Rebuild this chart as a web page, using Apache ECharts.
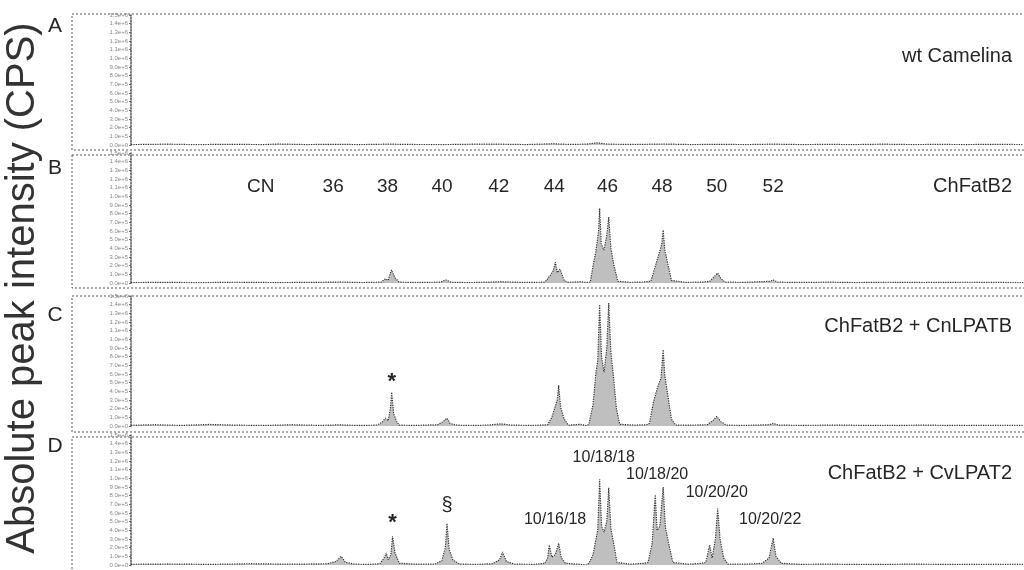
<!DOCTYPE html>
<html><head><meta charset="utf-8">
<script src="https://cdn.jsdelivr.net/npm/echarts@6/dist/echarts.min.js"></script>
<style>html,body{margin:0;padding:0;background:#fff}#c{width:1024px;height:570px}</style>
</head><body><div id="c"></div>
<script>
// Panel identifiers and titles
const panelLetters = ['A', 'B', 'C', 'D'];
const panelNames = ['wt Camelina', 'ChFatB2', 'ChFatB2 + CnLPATB', 'ChFatB2 + CvLPAT2'];

// Traces: [retention position (CN-equivalent), intensity (x10^4 CPS)]
const traceA = [[28.65,0.5],[30,1],[31,0.4],[32,0.8],[33.5,0.5],[34,1.2],[35,0.5],[36,0.8],[37,0.5],[38,1],[39,0.6],[40,0.5],[41,0.9],[42,1],[43,0.5],[44,1.5],[44.6,0.6],[45.2,1],[45.6,2.5],[46,1],[47,0.6],[48,1.2],[49,0.5],[50,0.8],[51,0.5],[52,1],[53,0.5],[54,0.7],[55,0.5],[56,1],[57,0.5],[58,0.7],[59,0.5],[60,0.8],[61.1,0.5]];

const traceB = [[28.65,0.5],[30,0.8],[31,0.4],[32.5,0.9],[34,0.5],[35.5,0.8],[36.3,1.2],[37,0.5],
 [37.75,1],[37.9,5],[38.0,3],[38.12,15],[38.25,6],[38.4,1],
 [39,0.6],[39.9,1],[40.1,3.5],[40.3,0.8],[41,0.5],[42.1,1.5],[43,0.6],
 [43.7,1],[43.9,9],[44.0,14],[44.08,24],[44.15,12],[44.25,16],[44.4,3],[44.55,0.8],
 [45.0,1.5],[45.2,0.5],
 [45.35,1],[45.45,20],[45.55,36],[45.65,60],[45.69,86],[45.75,45],[45.85,38],[45.95,55],[46.02,76],[46.1,40],[46.2,22],[46.35,2],
 [46.8,0.8],[47.3,1.2],
 [47.55,2],[47.7,18],[47.85,34],[47.95,45],[48.0,61],[48.06,38],[48.15,25],[48.3,3],
 [48.8,0.8],[49.4,1],
 [49.7,2],[49.85,7],[49.98,11.5],[50.1,5],[50.25,1],
 [51,0.8],[51.9,2],[52.0,3.5],[52.15,1],[53,0.6],[54,1],[55,0.5],[56,0.9],[57.5,0.6],[59,0.9],[61.1,0.5]];

const traceC = [[28.65,0.8],[29.5,1.5],[30.5,0.7],[31.5,1.8],[32.5,1],[33.5,0.6],[34.5,1.5],[35.5,0.7],[36.2,1.3],[37,0.6],
 [37.6,1],[37.8,5],[37.9,9],[38.0,6],[38.08,20],[38.13,39],[38.2,14],[38.3,6],[38.4,1],
 [39,0.7],[39.8,1.5],[40.0,5],[40.14,9],[40.25,3],[40.5,1],[41,0.6],[41.6,1],[42.1,2.5],[42.5,1],[43.3,0.7],
 [43.8,1.5],[43.95,10],[44.05,20],[44.15,30],[44.2,47],[44.27,22],[44.4,8],[44.55,1],
 [45.0,2],[45.2,0.5],
 [45.3,2],[45.45,25],[45.55,60],[45.62,75],[45.69,140],[45.76,80],[45.85,62],[45.95,90],[46.02,142],[46.1,85],[46.2,55],[46.3,20],[46.42,2],
 [47,1],[47.4,1.5],
 [47.5,3],[47.65,28],[47.8,45],[47.92,55],[48.0,88],[48.06,58],[48.15,40],[48.3,8],[48.45,1],
 [49,1],[49.6,1.5],[49.8,6],[49.95,11],[50.1,5],[50.3,1],[51,0.7],[51.85,1.5],[52,3],[52.2,1],[53,0.8],[54.5,1],[56,0.6],[57.5,1],[59,0.6],[61.1,0.8]];

const traceD = [[28.65,0.8],[30,1.2],[31.5,0.7],[33,1.5],[34.5,0.9],[35.8,1.5],[36.1,4],[36.29,10],[36.45,3],[36.8,1],[37.3,0.7],
 [37.7,1.5],[37.85,8],[37.93,14],[38.0,6],[38.1,12],[38.16,33],[38.25,14],[38.4,2],
 [39,1],[39.7,1],[39.95,5],[40.08,20],[40.14,48],[40.22,18],[40.35,6],[40.6,1],[41.2,0.8],[41.8,1.5],[42.05,6],[42.16,15],[42.3,4],[42.6,1],[43.3,0.8],
 [43.7,2],[43.8,8],[43.86,23],[43.95,9],[44.08,12],[44.2,25],[44.3,8],[44.45,2],
 [44.9,1],[45.2,0],
 [45.3,2],[45.45,12],[45.55,29],[45.62,40],[45.69,99],[45.76,45],[45.85,38],[45.95,50],[46.02,89],[46.1,42],[46.2,25],[46.32,3],
 [46.8,1],[47.3,2],
 [47.45,3],[47.6,25],[47.71,81],[47.78,40],[47.88,45],[48.0,90],[48.08,44],[48.2,25],[48.35,3],
 [48.9,1],[49.4,2],
 [49.55,3],[49.69,23],[49.78,8],[49.9,30],[49.98,65],[50.07,30],[50.2,8],[50.35,1],
 [51,1],[51.6,2],[51.85,8],[52.0,31],[52.1,10],[52.3,2],[53,0.8],[54,1],[55.5,0.6],[57,1],[58.5,0.7],[61.1,0.8]];

const traces = [traceA, traceB, traceC, traceD];

// Carbon-number labels in panel B
const cnLabels = ['CN', '36', '38', '40', '42', '44', '46', '48', '50', '52'];
const cnPositions = [33.37, 36, 37.98, 39.96, 42.02, 44.04, 45.98, 47.96, 49.95, 52];
const cnLevel = 111;

// Peak annotations: [text, position, level]
const annC = [['*', 38.13, 51]];
const annD = [['10/18/18', 45.84, 123.5], ['10/18/20', 47.78, 104], ['10/20/20', 49.95, 84],
              ['10/20/22', 51.89, 52], ['10/16/18', 44.07, 52], ['*', 38.16, 48.5], ['§', 40.14, 69]];

const xMin = 28.65, xMax = 61.12, yMax = 150, yStep = 10;
const gridTops = [15, 153, 296, 435];
const gridH = 130;
const frames = [[14, 136], [155, 133], [296, 136], [437, 140]];
const letterY = [26, 168, 315, 446];
const titleCenters = [57, 187, 327, 474];

const FONT = 'Liberation Sans, Arial, sans-serif';
const TXT = '#262626';
const chart = echarts.init(document.getElementById('c'));

const grids = [], xAxes = [], yAxes = [], series = [], titles = [], graphics = [];
for (let i = 0; i < 4; i++) {
  grids.push({left: 131, right: -8, top: gridTops[i], height: gridH});
  xAxes.push({type: 'value', gridIndex: i, min: xMin, max: xMax, show: false});
  yAxes.push({type: 'value', gridIndex: i, min: 0, max: yMax, interval: yStep,
    axisLine: {show: true, lineStyle: {color: '#555', type: 'dotted', width: 1.5}},
    axisTick: {show: true, length: 2, lineStyle: {color: '#666'}},
    splitLine: {show: false},
    axisLabel: {fontSize: 6, color: '#888', margin: 3, fontFamily: FONT,
      formatter: v => (v * 1e4).toExponential(1)}});
  series.push({type: 'line', xAxisIndex: i, yAxisIndex: i, data: traces[i], symbol: 'none',
    lineStyle: {color: '#333', width: 1.2, type: 'dotted'},
    areaStyle: {color: 'rgba(75,75,75,0.5)'}, silent: true, animation: false});
  titles.push({text: panelNames[i], right: 12, top: titleCenters[i] - 11, padding: 0,
    textStyle: {fontSize: 20, fontWeight: 'normal', color: TXT, fontFamily: FONT}});
  graphics.push({type: 'rect', shape: {x: 72, y: frames[i][0], width: 980, height: frames[i][1]},
    style: {fill: 'none', stroke: '#555', lineWidth: 1, lineDash: [2, 2]}, silent: true});
  graphics.push({type: 'text', x: 55, y: letterY[i],
    style: {text: panelLetters[i], font: '21px ' + FONT, fill: TXT, textAlign: 'center', textVerticalAlign: 'middle'}});
}

function labelSeries(gi, items, size, extra) {
  return {type: 'scatter', xAxisIndex: gi, yAxisIndex: gi, symbol: 'circle', symbolSize: 1,
    itemStyle: {color: 'rgba(0,0,0,0)', opacity: 1}, silent: true, animation: false,
    data: items.map(d => ({name: d[0], value: [d[1], d[2]]})),
    label: Object.assign({show: true, position: 'inside', formatter: p => p.name, opacity: 1,
      fontSize: size, color: TXT, textBorderWidth: 0, fontFamily: FONT}, extra || {})};
}
series.push(labelSeries(1, cnLabels.map((t, k) => [t, cnPositions[k], cnLevel]), 19));
series.push(labelSeries(2, annC, 22, {fontWeight: 'bold'}));
series.push(labelSeries(3, annD.filter(a => a[0].length > 1), 16));
series.push(labelSeries(3, annD.filter(a => a[0] === '*'), 22, {fontWeight: 'bold'}));
series.push(labelSeries(3, annD.filter(a => a[0] === '§'), 20));

graphics.push({type: 'text', x: 23, y: 288, rotation: Math.PI / 2,
  style: {text: 'Absolute peak intensity (CPS)', font: '40px ' + FONT, fill: '#333',
    textAlign: 'center', textVerticalAlign: 'middle'}});

chart.setOption({
  backgroundColor: '#fff', animation: false,
  title: titles, grid: grids, xAxis: xAxes, yAxis: yAxes, series: series, graphic: graphics
});
</script></body></html>
